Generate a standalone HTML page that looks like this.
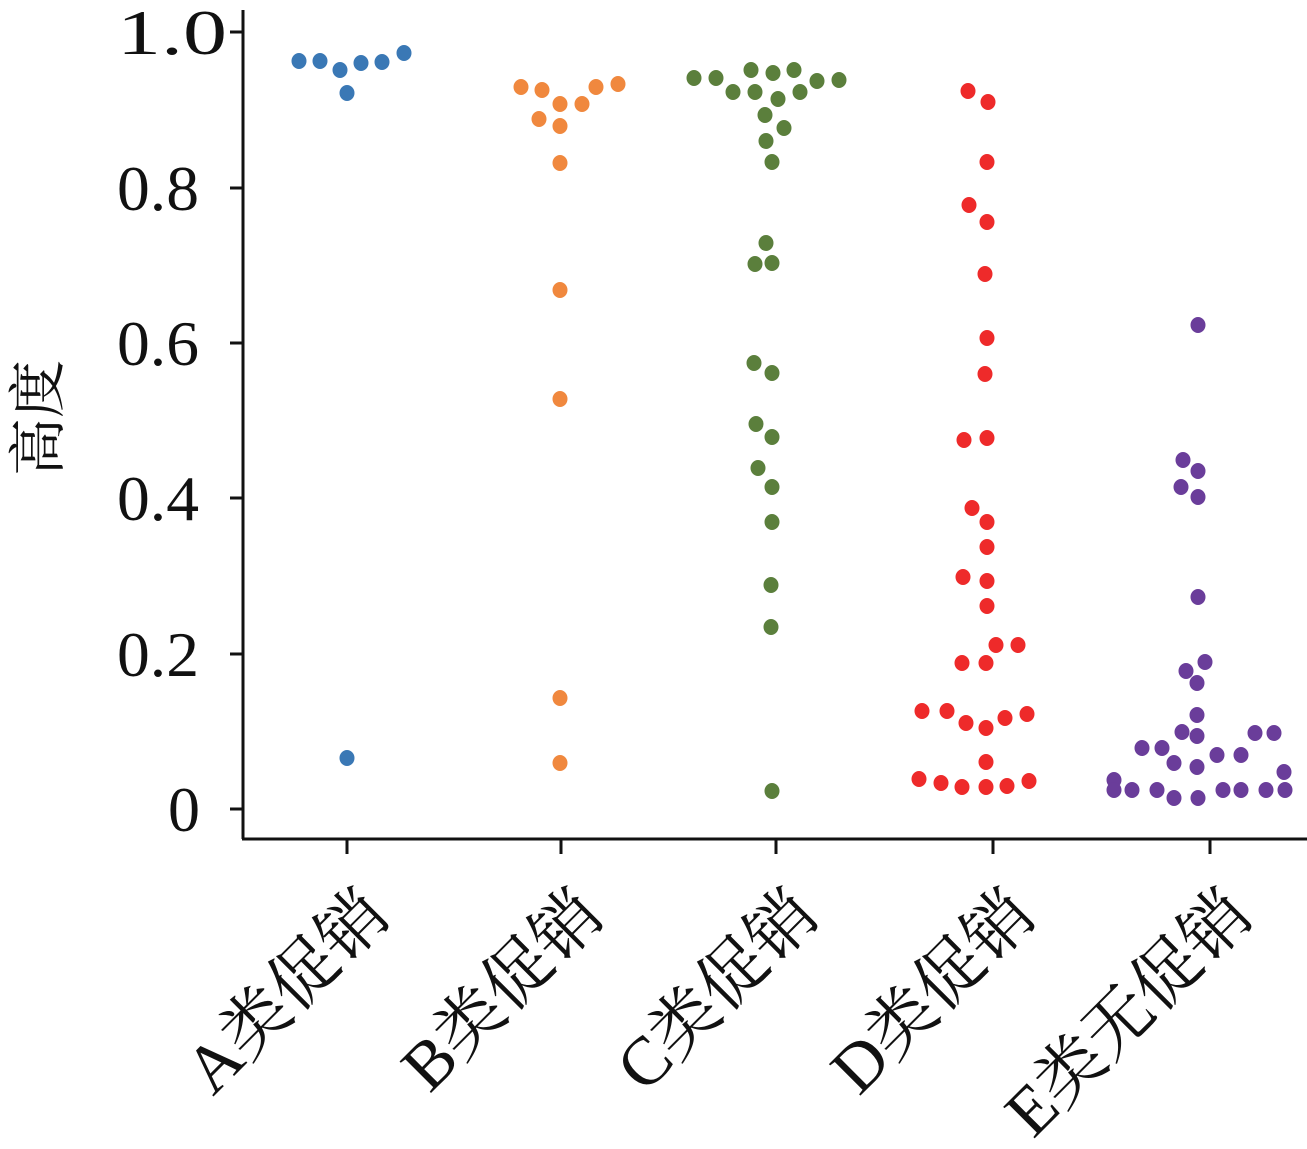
<!DOCTYPE html>
<html><head><meta charset="utf-8"><style>
html,body{margin:0;padding:0;background:#fff;}
svg{display:block;}
text{font-family:"Liberation Serif","Noto Serif CJK SC",serif;fill:#111;}
</style></head><body>
<svg width="1307" height="1149" viewBox="0 0 1307 1149" xmlns="http://www.w3.org/2000/svg">
<g stroke="#111" stroke-width="3" fill="none">
<line x1="243" y1="10" x2="243" y2="839"/>
<line x1="242" y1="839" x2="1307" y2="839"/>
<line x1="230" y1="32" x2="243" y2="32"/>
<line x1="230" y1="188" x2="243" y2="188"/>
<line x1="230" y1="343" x2="243" y2="343"/>
<line x1="230" y1="498" x2="243" y2="498"/>
<line x1="230" y1="654" x2="243" y2="654"/>
<line x1="230" y1="809" x2="243" y2="809"/>
<line x1="347" y1="839" x2="347" y2="854"/>
<line x1="561" y1="839" x2="561" y2="854"/>
<line x1="776" y1="839" x2="776" y2="854"/>
<line x1="993" y1="839" x2="993" y2="854"/>
<line x1="1210" y1="839" x2="1210" y2="854"/>
</g>
<g font-size="64">
<text x="117" y="54" textLength="110" lengthAdjust="spacingAndGlyphs">1.0</text>
<text x="117" y="210" textLength="82" lengthAdjust="spacingAndGlyphs">0.8</text>
<text x="117" y="365" textLength="82" lengthAdjust="spacingAndGlyphs">0.6</text>
<text x="117" y="520" textLength="82" lengthAdjust="spacingAndGlyphs">0.4</text>
<text x="117" y="676" textLength="82" lengthAdjust="spacingAndGlyphs">0.2</text>
<text x="168" y="831" textLength="32" lengthAdjust="spacingAndGlyphs">0</text>
</g>
<text x="0" y="0" font-size="58" text-anchor="middle" transform="translate(58,418) rotate(-90)">高度</text>
<g font-size="68" text-anchor="end">
<text transform="translate(392,918) rotate(-45)">A类促销</text>
<text transform="translate(606,918) rotate(-45)">B类促销</text>
<text transform="translate(821,918) rotate(-45)">C类促销</text>
<text transform="translate(1038,918) rotate(-45)">D类促销</text>
<text transform="translate(1255,918) rotate(-45)">E类无促销</text>
</g>
<g fill="#3a78b5">
<ellipse cx="299" cy="61" rx="7.5" ry="8"/><ellipse cx="320" cy="61" rx="7.5" ry="8"/><ellipse cx="340" cy="70" rx="7.5" ry="8"/><ellipse cx="361" cy="63" rx="7.5" ry="8"/><ellipse cx="382" cy="62" rx="7.5" ry="8"/><ellipse cx="404" cy="53" rx="7.5" ry="8"/><ellipse cx="347" cy="93" rx="7.5" ry="8"/><ellipse cx="347" cy="758" rx="7.5" ry="8"/>
</g>
<g fill="#f0883e">
<ellipse cx="521" cy="87" rx="7.5" ry="8"/><ellipse cx="542" cy="90" rx="7.5" ry="8"/><ellipse cx="596" cy="87" rx="7.5" ry="8"/><ellipse cx="618" cy="84" rx="7.5" ry="8"/><ellipse cx="539" cy="119" rx="7.5" ry="8"/><ellipse cx="560" cy="104" rx="7.5" ry="8"/><ellipse cx="582" cy="104" rx="7.5" ry="8"/><ellipse cx="560" cy="126" rx="7.5" ry="8"/><ellipse cx="560" cy="163" rx="7.5" ry="8"/><ellipse cx="560" cy="290" rx="7.5" ry="8"/><ellipse cx="560" cy="399" rx="7.5" ry="8"/><ellipse cx="560" cy="698" rx="7.5" ry="8"/><ellipse cx="560" cy="763" rx="7.5" ry="8"/>
</g>
<g fill="#5b7f3c">
<ellipse cx="694" cy="78" rx="7.5" ry="8"/><ellipse cx="716" cy="78" rx="7.5" ry="8"/><ellipse cx="733" cy="92" rx="7.5" ry="8"/><ellipse cx="755" cy="92" rx="7.5" ry="8"/><ellipse cx="751" cy="70" rx="7.5" ry="8"/><ellipse cx="773" cy="73" rx="7.5" ry="8"/><ellipse cx="794" cy="70" rx="7.5" ry="8"/><ellipse cx="778" cy="99" rx="7.5" ry="8"/><ellipse cx="800" cy="92" rx="7.5" ry="8"/><ellipse cx="817" cy="81" rx="7.5" ry="8"/><ellipse cx="839" cy="80" rx="7.5" ry="8"/><ellipse cx="765" cy="115" rx="7.5" ry="8"/><ellipse cx="784" cy="128" rx="7.5" ry="8"/><ellipse cx="766" cy="141" rx="7.5" ry="8"/><ellipse cx="772" cy="162" rx="7.5" ry="8"/><ellipse cx="766" cy="243" rx="7.5" ry="8"/><ellipse cx="755" cy="264" rx="7.5" ry="8"/><ellipse cx="772" cy="263" rx="7.5" ry="8"/><ellipse cx="754" cy="363" rx="7.5" ry="8"/><ellipse cx="772" cy="373" rx="7.5" ry="8"/><ellipse cx="756" cy="424" rx="7.5" ry="8"/><ellipse cx="772" cy="437" rx="7.5" ry="8"/><ellipse cx="758" cy="468" rx="7.5" ry="8"/><ellipse cx="772" cy="487" rx="7.5" ry="8"/><ellipse cx="772" cy="522" rx="7.5" ry="8"/><ellipse cx="771" cy="585" rx="7.5" ry="8"/><ellipse cx="771" cy="627" rx="7.5" ry="8"/><ellipse cx="772" cy="791" rx="7.5" ry="8"/>
</g>
<g fill="#ee2a2a">
<ellipse cx="968" cy="91" rx="7.5" ry="8"/><ellipse cx="988" cy="102" rx="7.5" ry="8"/><ellipse cx="987" cy="162" rx="7.5" ry="8"/><ellipse cx="969" cy="205" rx="7.5" ry="8"/><ellipse cx="987" cy="222" rx="7.5" ry="8"/><ellipse cx="985" cy="274" rx="7.5" ry="8"/><ellipse cx="987" cy="338" rx="7.5" ry="8"/><ellipse cx="985" cy="374" rx="7.5" ry="8"/><ellipse cx="964" cy="440" rx="7.5" ry="8"/><ellipse cx="987" cy="438" rx="7.5" ry="8"/><ellipse cx="972" cy="508" rx="7.5" ry="8"/><ellipse cx="987" cy="522" rx="7.5" ry="8"/><ellipse cx="987" cy="547" rx="7.5" ry="8"/><ellipse cx="963" cy="577" rx="7.5" ry="8"/><ellipse cx="987" cy="581" rx="7.5" ry="8"/><ellipse cx="987" cy="606" rx="7.5" ry="8"/><ellipse cx="996" cy="645" rx="7.5" ry="8"/><ellipse cx="1018" cy="645" rx="7.5" ry="8"/><ellipse cx="962" cy="663" rx="7.5" ry="8"/><ellipse cx="986" cy="663" rx="7.5" ry="8"/><ellipse cx="922" cy="711" rx="7.5" ry="8"/><ellipse cx="947" cy="711" rx="7.5" ry="8"/><ellipse cx="966" cy="723" rx="7.5" ry="8"/><ellipse cx="986" cy="728" rx="7.5" ry="8"/><ellipse cx="1005" cy="718" rx="7.5" ry="8"/><ellipse cx="1027" cy="714" rx="7.5" ry="8"/><ellipse cx="986" cy="762" rx="7.5" ry="8"/><ellipse cx="919" cy="779" rx="7.5" ry="8"/><ellipse cx="941" cy="783" rx="7.5" ry="8"/><ellipse cx="962" cy="787" rx="7.5" ry="8"/><ellipse cx="986" cy="787" rx="7.5" ry="8"/><ellipse cx="1007" cy="786" rx="7.5" ry="8"/><ellipse cx="1029" cy="781" rx="7.5" ry="8"/>
</g>
<g fill="#6a3d9a">
<ellipse cx="1198" cy="325" rx="7.5" ry="8"/><ellipse cx="1183" cy="460" rx="7.5" ry="8"/><ellipse cx="1198" cy="471" rx="7.5" ry="8"/><ellipse cx="1181" cy="487" rx="7.5" ry="8"/><ellipse cx="1198" cy="497" rx="7.5" ry="8"/><ellipse cx="1198" cy="597" rx="7.5" ry="8"/>
<ellipse cx="1205" cy="662" rx="7.5" ry="8"/><ellipse cx="1186" cy="671" rx="7.5" ry="8"/><ellipse cx="1197" cy="683" rx="7.5" ry="8"/><ellipse cx="1197" cy="715" rx="7.5" ry="8"/><ellipse cx="1182" cy="732" rx="7.5" ry="8"/><ellipse cx="1197" cy="736" rx="7.5" ry="8"/><ellipse cx="1255" cy="733" rx="7.5" ry="8"/><ellipse cx="1274" cy="733" rx="7.5" ry="8"/><ellipse cx="1142" cy="748" rx="7.5" ry="8"/><ellipse cx="1162" cy="748" rx="7.5" ry="8"/><ellipse cx="1174" cy="763" rx="7.5" ry="8"/><ellipse cx="1197" cy="767" rx="7.5" ry="8"/><ellipse cx="1217" cy="755" rx="7.5" ry="8"/><ellipse cx="1241" cy="755" rx="7.5" ry="8"/><ellipse cx="1284" cy="772" rx="7.5" ry="8"/><ellipse cx="1114" cy="780" rx="7.5" ry="8"/><ellipse cx="1114" cy="790" rx="7.5" ry="8"/><ellipse cx="1132" cy="790" rx="7.5" ry="8"/><ellipse cx="1157" cy="790" rx="7.5" ry="8"/><ellipse cx="1174" cy="798" rx="7.5" ry="8"/><ellipse cx="1198" cy="798" rx="7.5" ry="8"/><ellipse cx="1223" cy="790" rx="7.5" ry="8"/><ellipse cx="1241" cy="790" rx="7.5" ry="8"/><ellipse cx="1266" cy="790" rx="7.5" ry="8"/><ellipse cx="1285" cy="790" rx="7.5" ry="8"/>
</g>
</svg>
</body></html>
